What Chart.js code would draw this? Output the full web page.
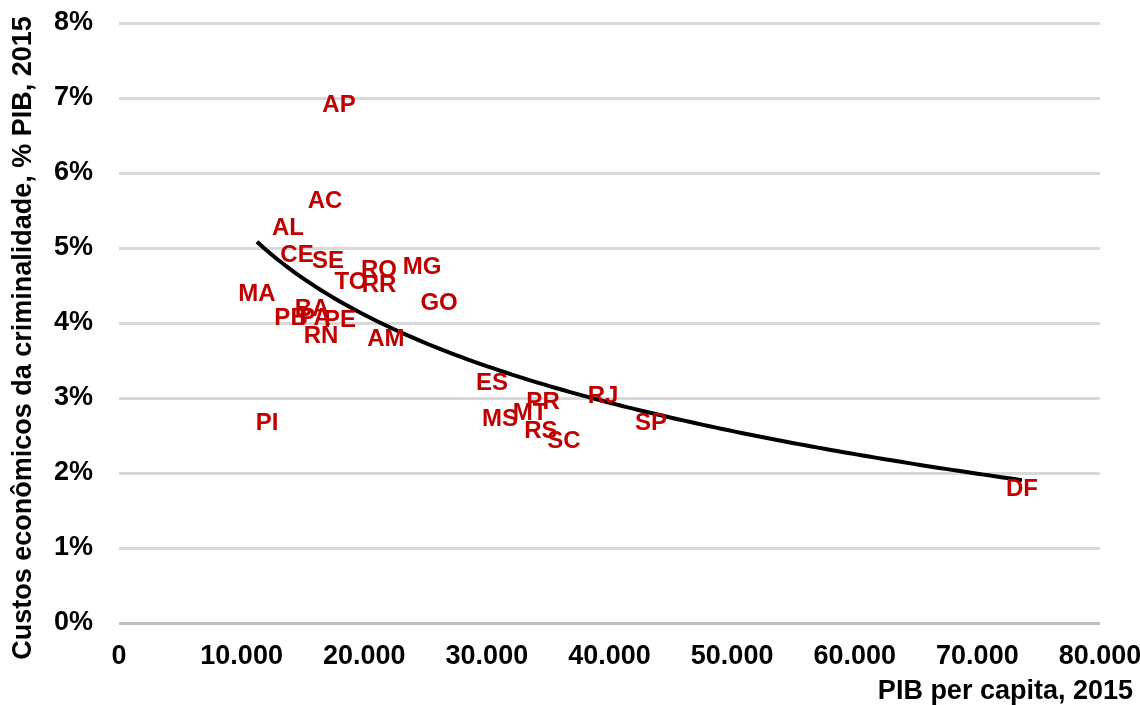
<!DOCTYPE html>
<html>
<head>
<meta charset="utf-8">
<script src="https://cdn.jsdelivr.net/npm/chart.js@4.4.1/dist/chart.umd.min.js"></script>
<style>
  html, body { margin: 0; padding: 0; background: #ffffff; }
  #wrap { width: 1140px; height: 705px; position: relative; }
</style>
</head>
<body>
<div id="wrap"><canvas id="c" width="1140" height="705"></canvas></div>
<script>
// ---- Data ----
const states = ['AC','AL','CE','SE','TO','RO','RR','MG','MA','GO','BA','PB','PA','PE','RN','AM','ES','PR','MS','MT','RS','SC','RJ','SP','DF','PI','AP'];
const pibPerCapita = [16800,13780,14515,17040,18920,21200,21200,24710,11250,26100,15740,14030,15980,18020,16470,21770,30420,34580,31070,33520,34410,36290,39470,43380,73640,12070,17940];
const custoPct = [5.64,5.28,4.92,4.84,4.56,4.71,4.51,4.76,4.40,4.27,4.20,4.07,4.08,4.05,3.84,3.79,3.21,2.95,2.73,2.81,2.57,2.43,3.03,2.67,1.80,2.67,6.92];
const xTickValues = [0,10000,20000,30000,40000,50000,60000,70000,80000];
const yTickValues = [0,1,2,3,4,5,6,7,8];
const xTitle = 'PIB per capita, 2015';
const yTitle = 'Custos econômicos da criminalidade, % PIB, 2015';

const FONT = '"Liberation Sans", Arial, Helvetica, sans-serif';
const LABEL_RED = '#C00000';

// Points
const points = states.map((s, i) => ({ x: pibPerCapita[i], y: custoPct[i], label: s }));

// Logarithmic trendline (least squares y = a + b ln x), spanning the data range
function logTrend(xs, ys) {
  const n = xs.length;
  const lx = xs.map(v => Math.log(v));
  const mx = lx.reduce((a, b) => a + b, 0) / n;
  const my = ys.reduce((a, b) => a + b, 0) / n;
  let sxy = 0, sxx = 0;
  for (let i = 0; i < n; i++) { sxy += (lx[i] - mx) * (ys[i] - my); sxx += (lx[i] - mx) ** 2; }
  const b = sxy / sxx, a = my - b * mx;
  const xmin = Math.min(...xs), xmax = Math.max(...xs);
  const out = [];
  const steps = 120;
  for (let k = 0; k <= steps; k++) {
    const x = xmin + (xmax - xmin) * k / steps;
    out.push({ x, y: a + b * Math.log(x) });
  }
  return out;
}
const trend = logTrend(pibPerCapita, custoPct);

function fmtThousands(v) {
  return String(Math.round(v)).replace(/\B(?=(\d{3})+(?!\d))/g, '.');
}

const labelPlugin = {
  id: 'pointLabels',
  afterDatasetsDraw(chart) {
    const meta = chart.getDatasetMeta(0);
    const ctx = chart.ctx;
    ctx.save();
    ctx.font = 'bold 24px ' + FONT;
    ctx.fillStyle = LABEL_RED;
    ctx.textAlign = 'center';
    ctx.textBaseline = 'middle';
    meta.data.forEach((el, i) => {
      ctx.fillText(chart.data.datasets[0].data[i].label, el.x, el.y + 1);
    });
    ctx.restore();
  }
};

const titlePlugin = {
  id: 'axisTitles',
  afterDraw(chart) {
    const ctx = chart.ctx;
    ctx.save();
    ctx.font = 'bold 27px ' + FONT;
    ctx.fillStyle = '#000000';
    ctx.textAlign = 'right';
    ctx.textBaseline = 'middle';
    ctx.fillText(xTitle, 1133, 692);
    ctx.translate(24, 338);
    ctx.rotate(-Math.PI / 2);
    ctx.textAlign = 'center';
    ctx.textBaseline = 'middle';
    ctx.fillText(yTitle, 0, 0);
    ctx.restore();
  }
};

new Chart(document.getElementById('c'), {
  type: 'scatter',
  data: {
    datasets: [
      {
        data: points,
        pointRadius: 0,
        pointHoverRadius: 0,
        showLine: false,
        order: 1
      },
      {
        data: trend,
        showLine: true,
        borderColor: '#000000',
        borderWidth: 4,
        pointRadius: 0,
        fill: false,
        tension: 0,
        order: 0
      }
    ]
  },
  options: {
    responsive: false,
    animation: false,
    devicePixelRatio: 1,
    layout: { padding: { top: 23, left: 0, right: 40, bottom: 0 } },
    plugins: { legend: { display: false }, tooltip: { enabled: false } },
    scales: {
      x: {
        type: 'linear',
        min: 0, max: 80000,
        afterBuildTicks: s => { s.ticks = xTickValues.map(v => ({ value: v })); },
        afterFit: s => { s.height = 82; s.paddingLeft = 0; s.paddingRight = 0; },
        grid: { display: false, drawTicks: false },
        border: { display: false },
        ticks: {
          color: '#000000',
          font: { family: FONT, size: 27, weight: 'bold' },
          padding: 17,
          maxRotation: 0,
          autoSkip: false,
          callback: v => fmtThousands(v)
        }
      },
      y: {
        type: 'linear',
        min: 0, max: 8,
        afterBuildTicks: s => { s.ticks = yTickValues.map(v => ({ value: v })); },
        afterFit: s => { s.width = 119; s.paddingTop = 0; s.paddingBottom = 0; },
        grid: {
          drawTicks: false,
          lineWidth: 3,
          color: c => (c.tick && c.tick.value === 0) ? '#BFBFBF' : '#D9D9D9'
        },
        border: { display: false },
        ticks: {
          color: '#000000',
          font: { family: FONT, size: 27, weight: 'bold' },
          padding: 26,
          autoSkip: false,
          callback: v => v + '%'
        }
      }
    }
  },
  plugins: [labelPlugin, titlePlugin]
});
</script>
</body>
</html>
